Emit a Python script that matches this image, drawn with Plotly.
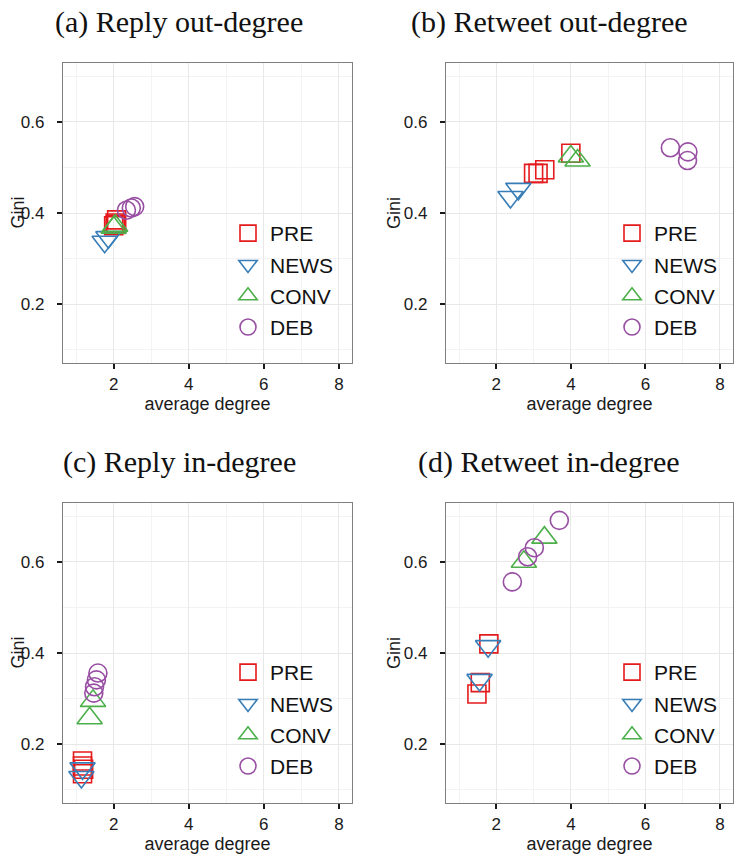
import plotly.graph_objects as go

# ---------------- data ----------------
groups = ["PRE", "NEWS", "CONV", "DEB"]
colors = ["#e41a1c", "#377eb8", "#4daf4a", "#984ea3"]
symbols = ["square-open", "triangle-down-open", "triangle-up-open", "circle-open"]
marker_sizes = [18, 22, 22, 18]

panel_titles = ["(a) Reply out-degree", "(b) Retweet out-degree",
                "(c) Reply in-degree", "(d) Retweet in-degree"]
y_title = "Gini"
x_title = "average degree"

reply_out_group = ["PRE"] * 4 + ["NEWS"] * 2 + ["CONV"] * 2 + ["DEB"] * 3
reply_out_degree = [2.00, 2.04, 2.08, 2.06, 1.76, 1.86, 2.00, 2.04, 2.34, 2.47, 2.56]
reply_out_gini = [0.372, 0.378, 0.385, 0.375, 0.337, 0.347, 0.368, 0.372, 0.406, 0.411, 0.414]

retweet_out_group = ["PRE"] * 4 + ["NEWS"] * 2 + ["CONV"] * 2 + ["DEB"] * 3
retweet_out_degree = [3.00, 3.12, 3.30, 4.00, 2.38, 2.59, 4.00, 4.18, 6.67, 7.14, 7.13]
retweet_out_gini = [0.487, 0.487, 0.495, 0.531, 0.435, 0.453, 0.524, 0.515, 0.543, 0.534, 0.515]

reply_in_group = ["PRE"] * 4 + ["NEWS"] * 2 + ["CONV"] * 2 + ["DEB"] * 4
reply_in_degree = [1.17, 1.17, 1.20, 1.17, 1.17, 1.14, 1.36, 1.45, 1.58, 1.54, 1.49, 1.47]
reply_in_gini = [0.163, 0.152, 0.145, 0.135, 0.147, 0.128, 0.257, 0.295, 0.356, 0.341, 0.326, 0.312]

retweet_in_group = ["PRE"] * 3 + ["NEWS"] * 2 + ["CONV"] * 2 + ["DEB"] * 4
retweet_in_degree = [1.48, 1.57, 1.80, 1.55, 1.78, 2.74, 3.29, 2.43, 2.84, 3.02, 3.69]
retweet_in_gini = [0.310, 0.335, 0.420, 0.341, 0.415, 0.600, 0.653, 0.556, 0.611, 0.631, 0.691]

x_ticks = [2, 4, 6, 8]
y_ticks = [0.2, 0.4, 0.6]
x_range = [0.65, 8.35]
y_range = [0.071, 0.729]

panels = [
    (reply_out_group, reply_out_degree, reply_out_gini),
    (retweet_out_group, retweet_out_degree, retweet_out_gini),
    (reply_in_group, reply_in_degree, reply_in_gini),
    (retweet_in_group, retweet_in_degree, retweet_in_gini),
]

# ---------------- layout geometry (pixels) ----------------
W, H = 740, 858
col_px = [(63, 352), (446, 733)]
row_px = [(63, 363), (503, 803)]
title_cx = [179, 549]
title_cy = [22, 462]
ytitle_cx = [17.5, 394]
legend_left = [226, 610]
legend_top = [213, 652]

fig = go.Figure()
layout = dict(
    width=W, height=H,
    margin=dict(l=0, r=0, t=0, b=0, autoexpand=False),
    paper_bgcolor="white", plot_bgcolor="white",
    font=dict(family="Liberation Sans, Arial, sans-serif", color="#1a1a1a"),
    annotations=[],
)

for p, (grp, xs, ys) in enumerate(panels):
    r, c = divmod(p, 2)
    idx = p + 1
    xa = "x" if idx == 1 else f"x{idx}"
    ya = "y" if idx == 1 else f"y{idx}"
    leg = "legend" if idx == 1 else f"legend{idx}"
    for g, col, sym, ms in zip(groups, colors, symbols, marker_sizes):
        gx = [x for x, gg in zip(xs, grp) if gg == g]
        gy = [y for y, gg in zip(ys, grp) if gg == g]
        fig.add_trace(go.Scatter(
            x=gx, y=gy, mode="markers", name=g,
            xaxis=xa, yaxis=ya, legend=leg,
            legendgroup=f"{idx}-{g}",
            marker=dict(symbol=sym, size=ms, color=col,
                        line=dict(color=col, width=1.6)),
            showlegend=True,
        ))
    axis_common = dict(
        automargin=False,
        showline=True, linecolor="#7f7f7f", linewidth=1.2, mirror=True,
        ticks="outside", ticklen=5, tickwidth=1.5, tickcolor="#1a1a1a",
        showgrid=True, gridcolor="#e8e8e8", gridwidth=1.2,
        zeroline=False,
        tickfont=dict(size=17, color="#1a1a1a"),
    )
    x0, x1 = col_px[c]
    y0, y1 = row_px[r]
    layout["xaxis" if idx == 1 else f"xaxis{idx}"] = dict(
        axis_common,
        domain=[x0 / W, x1 / W], anchor=ya, range=x_range,
        tickvals=x_ticks, ticklabelstandoff=0,
        minor=dict(dtick=1, tick0=0, showgrid=True, gridcolor="#f3f3f3", gridwidth=1),
        title=dict(text=x_title, font=dict(size=18), standoff=4),
    )
    layout["yaxis" if idx == 1 else f"yaxis{idx}"] = dict(
        axis_common,
        domain=[1 - y1 / H, 1 - y0 / H], anchor=xa, range=y_range,
        tickvals=y_ticks, ticktext=[f"{v:.1f}" for v in y_ticks],
        ticklabelstandoff=9,
        minor=dict(dtick=0.1, tick0=0, showgrid=True, gridcolor="#f3f3f3", gridwidth=1),
    )
    layout[leg] = dict(
        x=legend_left[c] / W, y=1 - legend_top[r] / H,
        xanchor="left", yanchor="top",
        bgcolor="rgba(0,0,0,0)", borderwidth=0,
        font=dict(size=21, color="#111111"),
        itemwidth=34, tracegroupgap=1, traceorder="grouped",
    )
    layout["annotations"].append(dict(
        text=panel_titles[p], xref="paper", yref="paper",
        x=title_cx[c] / W, y=1 - title_cy[r] / H,
        xanchor="center", yanchor="middle", showarrow=False,
        font=dict(family="Liberation Serif, Times New Roman, serif", size=30, color="#111111"),
    ))
    layout["annotations"].append(dict(
        text=y_title, xref="paper", yref="paper", textangle=-90,
        x=ytitle_cx[c] / W, y=1 - (y0 + y1) / 2 / H,
        xanchor="center", yanchor="middle", showarrow=False,
        font=dict(size=18, color="#1a1a1a"),
    ))

fig.update_layout(**layout)
fig.write_html(
    "out.html",
    config={"displayModeBar": False},
    post_script="document.body.style.margin='0';document.body.style.padding='0';",
)
